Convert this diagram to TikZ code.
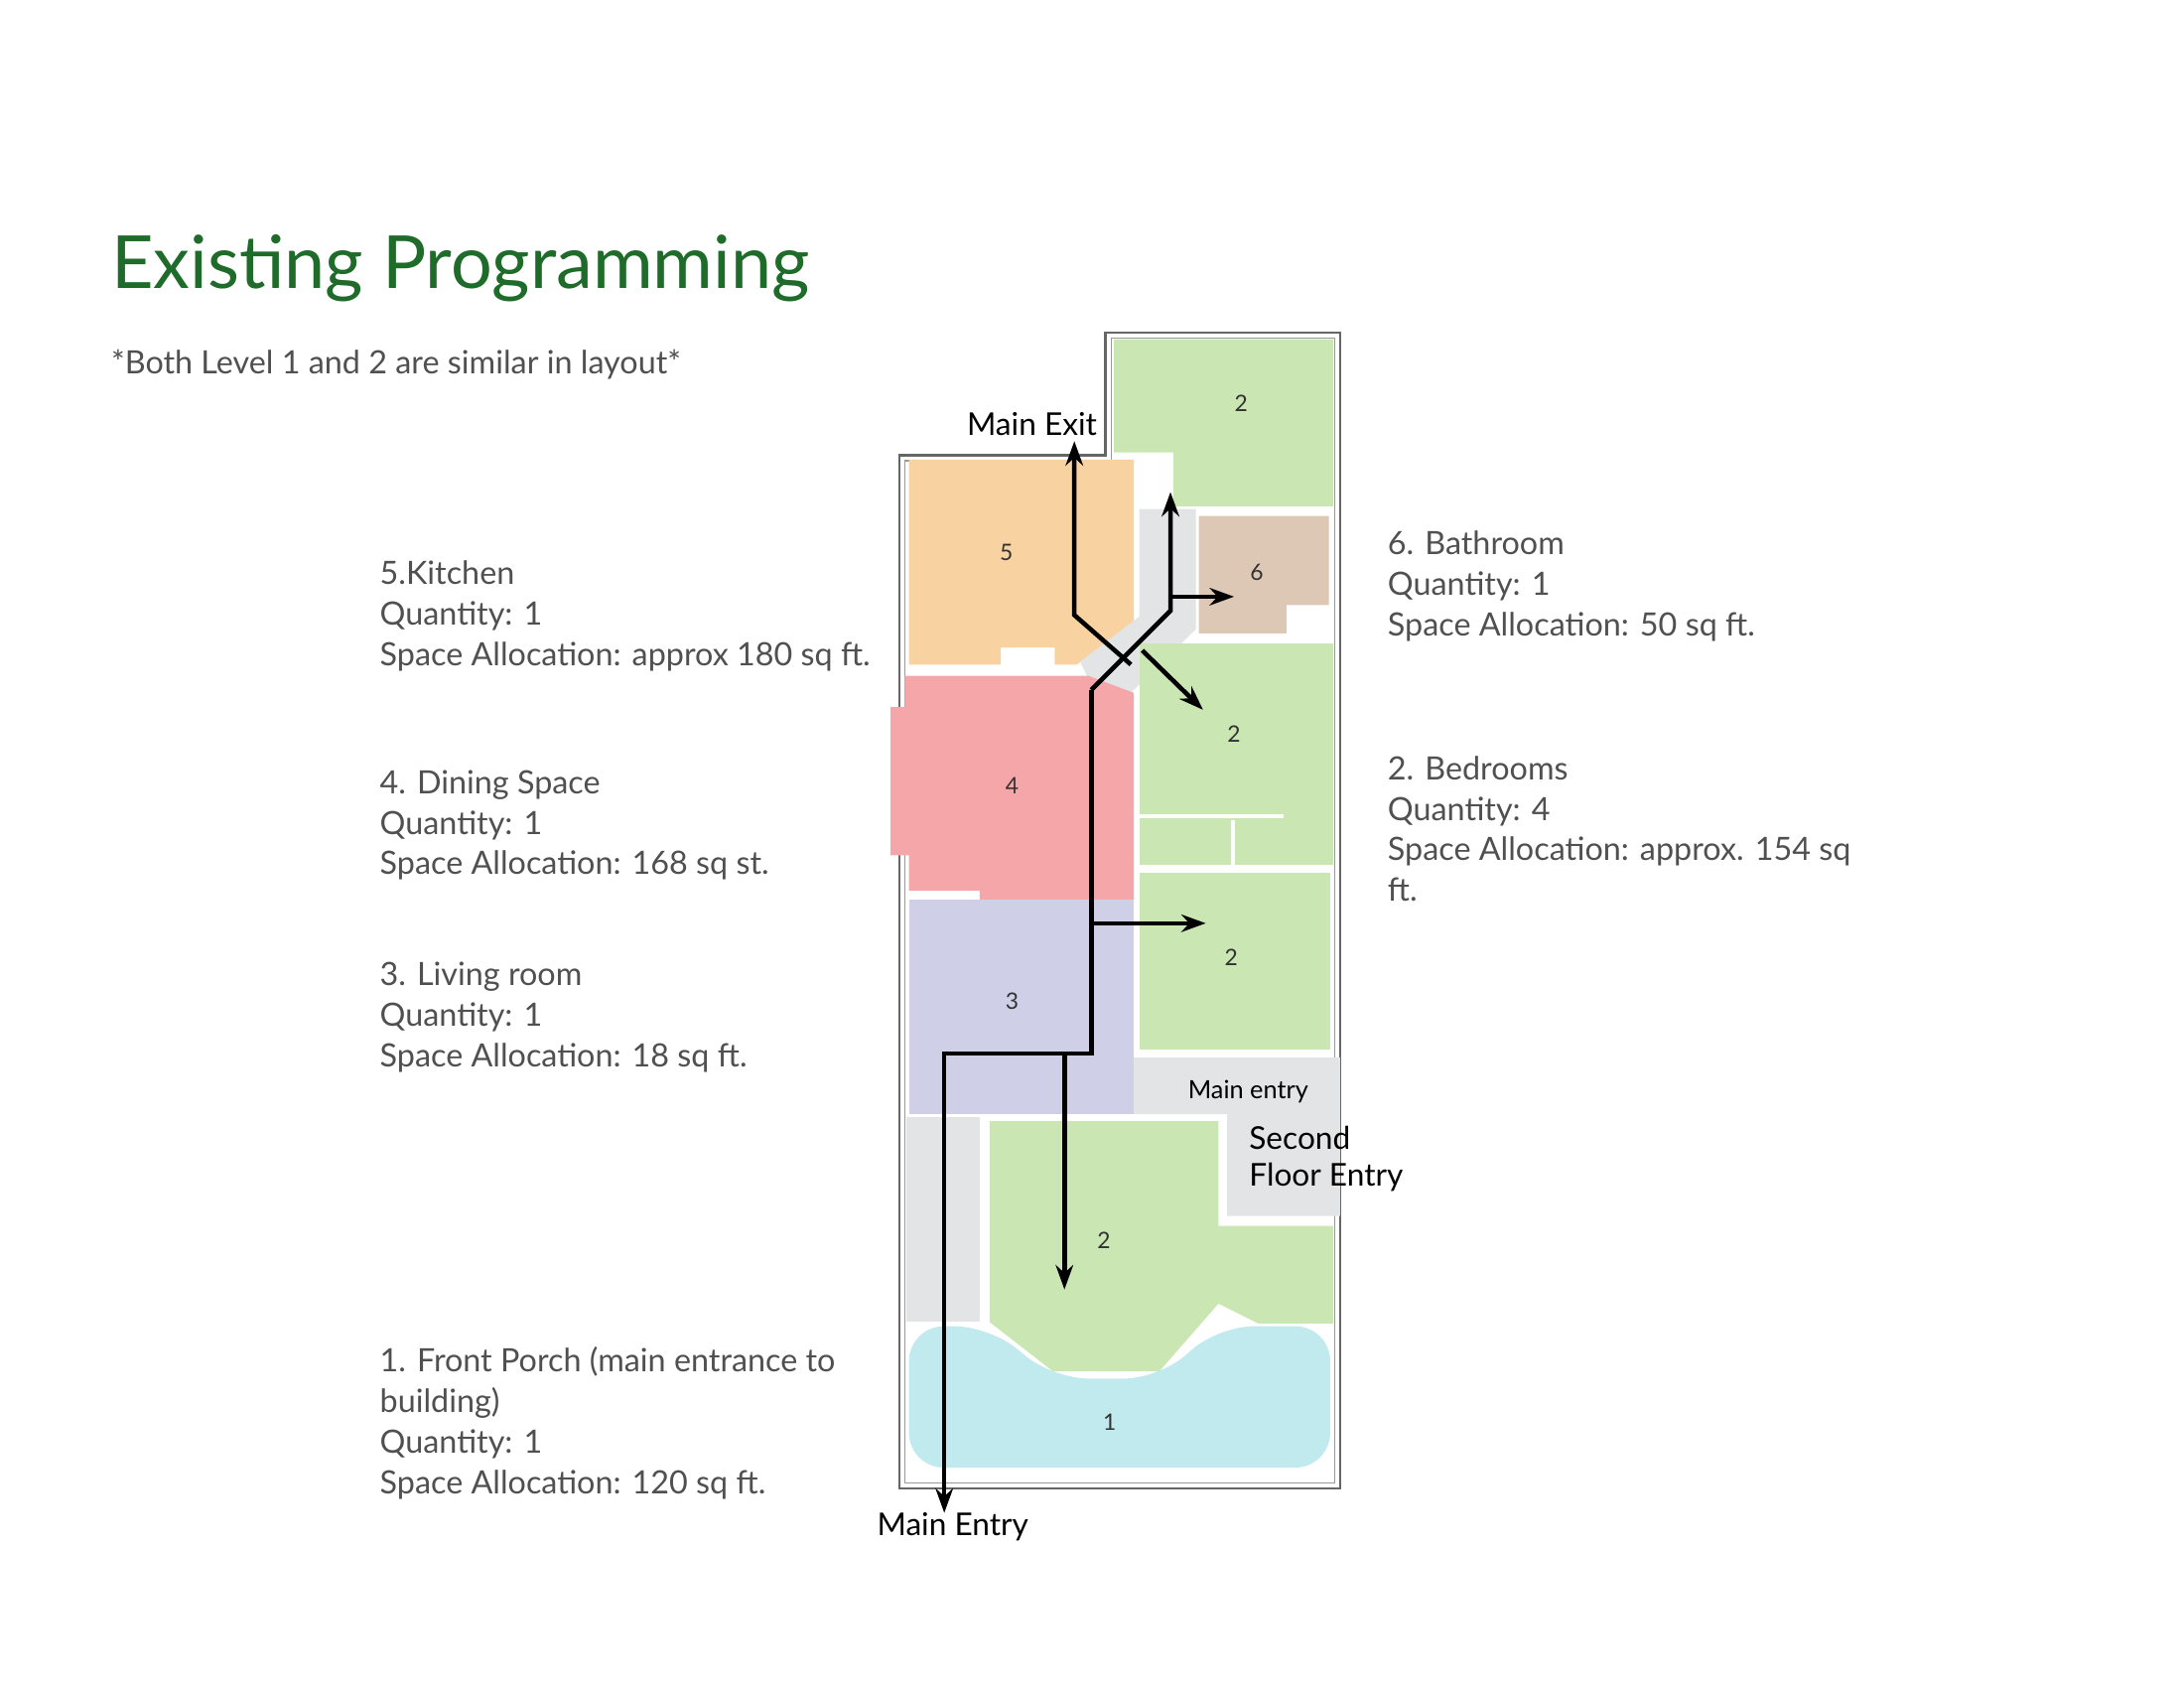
\documentclass[tikz,border=0pt]{standalone}
\usepackage{fontspec}
\setmainfont{Lato}
\usetikzlibrary{arrows.meta}
\definecolor{titlegreen}{HTML}{1E6B2A}
\definecolor{txtgray}{HTML}{505050}
\definecolor{bedgreen}{HTML}{CAE6B2}
\definecolor{kitchenorange}{HTML}{F9D2A2}
\definecolor{diningpink}{HTML}{F5A6A9}
\definecolor{livinglilac}{HTML}{CFD0E7}
\definecolor{bathtan}{HTML}{DCC8B4}
\definecolor{porchcyan}{HTML}{C0EAEE}
\definecolor{hallgray}{HTML}{E3E4E6}
\tikzset{
  room/.style={draw=white, line width=1.2pt},
  num/.style={font=\fontsize{6.5}{8}\selectfont, text=black!80},
  desc/.style={anchor=north west, align=left, text=txtgray, font=\fontsize{9.2}{11.6}\selectfont},
  signlabel/.style={font=\fontsize{9}{10.5}\selectfont, text=black, align=left},
  route/.style={line width=1.3pt, -{Stealth[length=7pt,width=5pt]}},
  trail/.style={line width=1.3pt}
}
\begin{document}
\begin{tikzpicture}[x=0.1424mm, y=-0.1424mm]
\useasboundingbox (0,0) rectangle (1545,1194);
% title
\node (title) [anchor=west, text=titlegreen, font=\fontsize{21}{24}\selectfont] at (70,190) {Existing Programming};
\node (note) [anchor=west, text=txtgray, font=\fontsize{9.2}{11}\selectfont] at (70,258) {*Both Level 1 and 2 are similar in layout*};
% outer wall
\draw[black!60, line width=0.6pt] (782,235) -- (948,235) -- (948,1053) -- (636,1053) -- (636,322) -- (782,322) -- cycle;
\draw[black!40, line width=0.4pt] (786,239) -- (944,239) -- (944,1049) -- (640,1049) -- (640,326) -- (786,326) -- cycle;
% rooms
\fill[bedgreen] (788,240) -- (943,240) -- (943,358) -- (830,358) -- (830,320) -- (788,320) -- cycle;
\fill[kitchenorange] (643,325) -- (802,325) -- (802,440) -- (762,470) -- (746,470) -- (746,458) -- (708,458) -- (708,470) -- (643,470) -- cycle;
\fill[hallgray] (806,360) -- (846,360) -- (846,445) -- (800,490) -- (772,484) -- (764,468) -- (806,436) -- cycle;
\fill[bathtan] (848,365) -- (940,365) -- (940,428) -- (910,428) -- (910,448) -- (848,448) -- cycle;
\fill[bedgreen] (806,455) -- (943,455) -- (943,612) -- (806,612) -- cycle;
\draw[room] (806,577) -- (908,577) (872,580) -- (872,612);
\fill[diningpink] (640,478) -- (770,478) -- (802,490) -- (802,637) -- (693,637) -- (693,630) -- (643,630) -- (643,605) -- (630,605) -- (630,500) -- (640,500) -- cycle;
\fill[livinglilac] (643,636) -- (802,636) -- (802,788) -- (643,788) -- cycle;
\fill[bedgreen] (806,617) -- (941,617) -- (941,742) -- (806,742) -- cycle;
\fill[hallgray] (802,748) -- (948,748) -- (948,860) -- (868,860) -- (868,788) -- (802,788) -- cycle;
\fill[hallgray] (641,790) -- (693,790) -- (693,935) -- (641,935) -- cycle;
\fill[bedgreen] (700,793) -- (862,793) -- (862,867) -- (943,867) -- (943,936) -- (890,936) -- (862,922) -- (820,970) -- (745,970) -- (700,935) -- cycle;
\fill[porchcyan, rounded corners=10pt] (643,938) -- (700,938) -- (745,975) -- (820,975) -- (862,938) -- (941,938) -- (941,1038) -- (643,1038) -- cycle;
% room numbers
\node (n2a) [num] at (878,285) {2};
\node (n5) [num] at (712,391) {5};
\node (n6) [num] at (889,405) {6};
\node (n2b) [num] at (873,519) {2};
\node (n4) [num] at (716,556) {4};
\node (n2c) [num] at (871,677) {2};
\node (n3) [num] at (716,708) {3};
\node (n2d) [num] at (781,877) {2};
\node (n1) [num] at (785,1006) {1};
\node (entry) [font=\fontsize{7.2}{9}\selectfont] at (883,772) {Main entry};
% markers
\node (exit) [signlabel] at (730,300) {Main Exit};
\node (second) [signlabel, anchor=north west] at (875,788) {Second\\Floor Entry};
\node (mainentry) [signlabel] at (674,1080) {Main Entry};
% route
\coordinate (hub) at (772,488);
\coordinate (bend) at (772,745);
\coordinate (low) at (668,745);
\draw[route] (hub) -- (bend) -- (low) -- (668,1070);
\draw[route] (hub) -- (828,432) -- (828,348);
\draw[route] (800,470) -- (760,435) -- (760,312);
\draw[route] (808,460) -- (851,502);
\draw[route] (828,422) -- (873,422);
\draw[route] (772,653) -- (853,653);
\draw[route] (753,745) -- (753,912);
% descriptions
\node (kitchen) [desc] at (260,388) {5.Kitchen\\Quantity: 1\\Space Allocation: approx 180 sq ft.};
\node (dining) [desc] at (260,536) {4. Dining Space\\Quantity: 1\\Space Allocation: 168 sq st.};
\node (living) [desc] at (260,672) {3. Living room\\Quantity: 1\\Space Allocation: 18 sq ft.};
\node (porch) [desc] at (260,944) {1. Front Porch (main entrance to\\building)\\Quantity: 1\\Space Allocation: 120 sq ft.};
\node (bath) [desc] at (973,367) {6. Bathroom\\Quantity: 1\\Space Allocation: 50 sq ft.};
\node (beds) [desc] at (973,526) {2. Bedrooms\\Quantity: 4\\Space Allocation: approx. 154 sq\\ft.};
\end{tikzpicture}
\end{document}
